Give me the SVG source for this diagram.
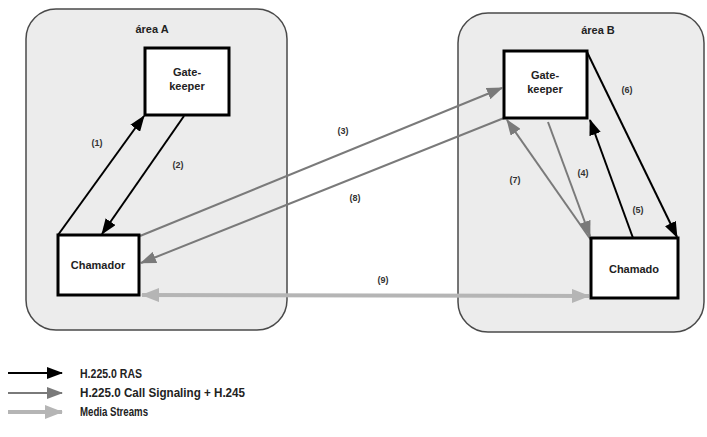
<svg xmlns="http://www.w3.org/2000/svg" width="707" height="437" viewBox="0 0 707 437">
<defs>
<style>
.area{fill:#ececec;stroke:#4a4a4a;stroke-width:1.5}
.node{fill:#ffffff;stroke:#000;stroke-width:3}
.t{font-family:"Liberation Sans",Arial,sans-serif;font-weight:bold;fill:#222}
.nt{font-size:11px;text-anchor:middle}
.lb{font-size:9px;text-anchor:middle;fill:#333}
.ras{stroke:#000;stroke-width:2;fill:none}
.sig{stroke:#7a7a7a;stroke-width:2;fill:none}
.med{stroke:#b5b5b5;stroke-width:4;fill:none}
.lg{font-size:12px}
</style>
<marker id="mk" markerUnits="userSpaceOnUse" markerWidth="16" markerHeight="12" refX="15" refY="6" orient="auto"><path d="M0,0 L16,6 L0,12 z" fill="#000"/></marker>
<marker id="mg" markerUnits="userSpaceOnUse" markerWidth="16" markerHeight="12" refX="15" refY="6" orient="auto"><path d="M0,0 L16,6 L0,12 z" fill="#7a7a7a"/></marker>
<marker id="ml" markerUnits="userSpaceOnUse" markerWidth="18" markerHeight="14" refX="17" refY="7" orient="auto-start-reverse"><path d="M0,0 L18,7 L0,14 z" fill="#b5b5b5"/></marker>
</defs>
<rect width="707" height="437" fill="#fff"/>
<g id="areaA"><rect class="area" x="26" y="9" width="261" height="321" rx="30"/><text class="t nt" x="152" y="33">área A</text></g>
<g id="areaB"><rect class="area" x="458" y="13" width="246" height="319" rx="30"/><text class="t nt" x="598" y="34">área B</text></g>
<g id="connectors">
<line class="ras" x1="58" y1="235" x2="144" y2="116" marker-end="url(#mk)"/>
<line class="ras" x1="184" y1="116" x2="102" y2="234" marker-end="url(#mk)"/>
<line class="sig" x1="140" y1="236" x2="502" y2="88" marker-end="url(#mg)"/>
<line class="sig" x1="504" y1="118" x2="141" y2="263" marker-end="url(#mg)"/>
<line class="sig" x1="548" y1="122" x2="590" y2="236" marker-end="url(#mg)"/>
<line class="sig" x1="591" y1="240" x2="507" y2="120" marker-end="url(#mg)"/>
<line class="ras" x1="633" y1="238" x2="590" y2="120" marker-end="url(#mk)"/>
<line class="ras" x1="587" y1="52" x2="677" y2="237" marker-end="url(#mk)"/>
<line class="med" x1="142" y1="295" x2="589" y2="296" marker-start="url(#ml)" marker-end="url(#ml)"/>
<text class="t lb" x="97" y="146">(1)</text>
<text class="t lb" x="178" y="168">(2)</text>
<text class="t lb" x="343" y="134">(3)</text>
<text class="t lb" x="583" y="176">(4)</text>
<text class="t lb" x="638" y="213">(5)</text>
<text class="t lb" x="627" y="93">(6)</text>
<text class="t lb" x="515" y="183">(7)</text>
<text class="t lb" x="355" y="201">(8)</text>
<text class="t lb" x="383" y="283">(9)</text>
</g>
<g id="gkA"><rect class="node" x="145" y="48" width="84" height="67"/><text class="t nt" x="187" y="76">Gate-</text><text class="t nt" x="187" y="90">keeper</text></g>
<g id="chamador"><rect class="node" x="58" y="235" width="81" height="60"/><text class="t nt" x="98" y="269">Chamador</text></g>
<g id="gkB"><rect class="node" x="504" y="51" width="83" height="67"/><text class="t nt" x="545" y="79">Gate-</text><text class="t nt" x="545" y="93">keeper</text></g>
<g id="chamado"><rect class="node" x="591" y="238" width="87" height="60"/><text class="t nt" x="634" y="273">Chamado</text></g>
<g id="legend">
<line class="ras" x1="8" y1="373" x2="62" y2="373" stroke-width="3" marker-end="url(#mk)"/>
<line class="sig" x1="8" y1="393" x2="62" y2="393" marker-end="url(#mg)"/>
<line class="med" x1="8" y1="412" x2="62" y2="412" stroke-width="2" marker-end="url(#ml)"/>
<text class="t lg" x="80" y="378" textLength="62" lengthAdjust="spacingAndGlyphs">H.225.0 RAS</text>
<text class="t lg" x="80" y="397" textLength="165" lengthAdjust="spacingAndGlyphs">H.225.0 Call Signaling + H.245</text>
<text class="t lg" x="80" y="416" textLength="68" lengthAdjust="spacingAndGlyphs">Media Streams</text>
</g>
</svg>
